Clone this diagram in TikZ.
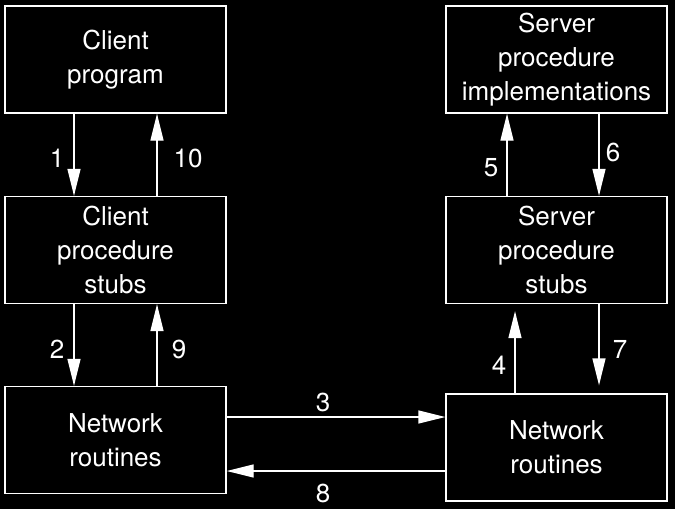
\documentclass[tikz,border=0pt]{standalone}
\usepackage{fontspec}
\setmainfont{TeX Gyre Heros}
\usetikzlibrary{arrows.meta}

\begin{document}
\begin{tikzpicture}[x=1pt, y=-1pt, line width=1.3pt,
    every node/.style={text=white, font=\fontsize{26}{34}\selectfont},
    box/.style={draw=white, rectangle, align=center, inner sep=0pt, minimum width=221pt, minimum height=107pt},
    arr/.style={draw=white, -{Triangle[length=27pt, width=13pt]}}]

    % Background
    \fill[black] (0,0) rectangle (675,509);
    \useasboundingbox (0,0) rectangle (675,509);

    % Client side
    \node[box] (cprog) at (115.5,59.5) {Client\\program};
    \node[box] (cstub) at (115.5,250) {Client\\procedure\\stubs};
    \node[box] (cnet) at (115.5,440) {Network\\routines};

    % Server side
    \node[box] (simpl) at (556.5,59.5) {Server\\procedure\\implementations};
    \node[box] (sstub) at (556.5,250) {Server\\procedure\\stubs};
    \node[box] (snet) at (556.5,447.5) {Network\\routines};

    % Calls
    \draw[arr] ([xshift=-41.5pt]cprog.south) -- ([xshift=-41.5pt]cstub.north);
    \draw[arr] ([xshift=-41.5pt]cstub.south) -- ([xshift=-41.5pt]cnet.north);
    \draw[arr] ([yshift=23pt]cnet.east) -- ([yshift=30.5pt]snet.west);
    \draw[arr, shorten >=7pt] ([xshift=-41.5pt]snet.north) -- ([xshift=-41.5pt]sstub.south);
    \draw[arr] ([xshift=-49.5pt]sstub.north) -- ([xshift=-49.5pt]simpl.south);

    % Returns
    \draw[arr] ([xshift=42.5pt]simpl.south) -- ([xshift=42.5pt]sstub.north);
    \draw[arr, shorten >=8pt] ([xshift=42.5pt]sstub.south) -- ([xshift=42.5pt]snet.north);
    \draw[arr] ([yshift=-23.5pt]snet.west) -- ([yshift=-31pt]cnet.east);
    \draw[arr] ([xshift=41.5pt]cnet.north) -- ([xshift=41.5pt]cstub.south);
    \draw[arr] ([xshift=41.5pt]cstub.north) -- ([xshift=41.5pt]cprog.south);

    % Step numbers
    \node (n1) at (57,158) {1};
    \node (n2) at (57,349) {2};
    \node (n3) at (323,402) {3};
    \node (n4) at (499,365) {4};
    \node (n5) at (491,168) {5};
    \node (n6) at (613,152) {6};
    \node (n7) at (620,349) {7};
    \node (n8) at (323,493) {8};
    \node (n9) at (179,349) {9};
    \node (n10) at (188,158) {10};

\end{tikzpicture}
\end{document}
